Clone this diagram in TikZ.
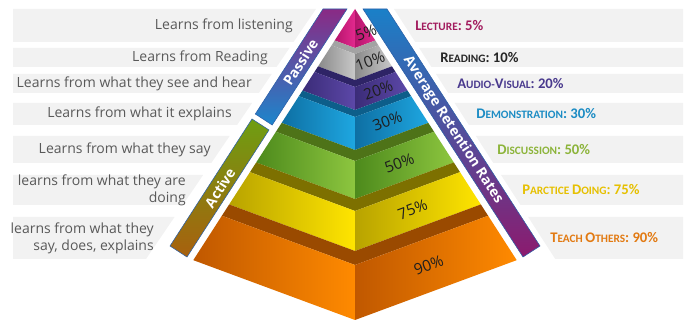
\documentclass[tikz,border=0pt]{standalone}
\usepackage{fontspec}
\setmainfont{Open Sans}
\newfontfamily\capfont{Carlito}
\usetikzlibrary{calc}

\definecolor{barbg}{HTML}{F2F2F2}
\definecolor{bartext}{HTML}{595959}
\definecolor{pcttext}{HTML}{1E1E1E}
% layer colours: dark, bright, ledge
\definecolor{dkpink}{HTML}{B5156C}   \definecolor{brpink}{HTML}{E3298E}
\definecolor{dkgrey}{HTML}{8A8A8A}   \definecolor{brgrey}{HTML}{C8C8C8}   \definecolor{lggrey}{HTML}{A3A3A3}
\definecolor{dkpurple}{HTML}{3B2C78} \definecolor{brpurple}{HTML}{5C48A8} \definecolor{lgpurple}{HTML}{2E2466}
\definecolor{dkblue}{HTML}{0E6FA3}   \definecolor{brblue}{HTML}{1EA7E1}   \definecolor{lgblue}{HTML}{0D5E8A}
\definecolor{dkgreen}{HTML}{4D8A1C}  \definecolor{brgreen}{HTML}{8DC63F}  \definecolor{lggreen}{HTML}{4E7318}
\definecolor{dkyellow}{HTML}{B8A300} \definecolor{bryellow}{HTML}{FFE500} \definecolor{lgyellow}{HTML}{7D7000}
\definecolor{dkorange}{HTML}{C05800} \definecolor{brorange}{HTML}{FF8A00} \definecolor{lgorange}{HTML}{9A4A00}
% bands
\definecolor{passtop}{HTML}{8A2A85}  \definecolor{passbot}{HTML}{1C86CC}
\definecolor{acttop}{HTML}{6E9E12}   \definecolor{actbot}{HTML}{A8600E}
\definecolor{avgtop}{HTML}{1A80C8}   \definecolor{avgmid}{HTML}{4A2E82}   \definecolor{avgbot}{HTML}{8C1A6E}
\definecolor{bandedge}{HTML}{2A5FA8}
% right labels
\definecolor{lecC}{HTML}{A21C5E}
\definecolor{readC}{HTML}{262626}
\definecolor{audioC}{HTML}{4A3A8E}
\definecolor{demoC}{HTML}{1C8CC4}
\definecolor{discC}{HTML}{8CB43A}
\definecolor{pracC}{HTML}{E6C000}
\definecolor{teachC}{HTML}{E27A12}

\newcommand{\bigc}[1]{{\fontsize{11}{12}\selectfont #1}}

\begin{document}
\begin{tikzpicture}[x=0.75pt, y=-0.75pt,
    bar/.style={fill=barbg},
    lefttext/.style={anchor=east, align=right, text=bartext, font=\fontsize{10.5}{12.5}\selectfont, inner sep=0pt},
    righttext/.style={anchor=west, inner sep=0pt, font=\capfont\bfseries\fontsize{8.5}{10}\selectfont},
    pct/.style={rotate=20.3, font=\fontsize{11.5}{12}\selectfont, text=pcttext, inner sep=0pt},
    bandtext/.style={text=white, font=\bfseries\fontsize{10.5}{12}\selectfont, inner sep=0pt},
    band/.style={draw=bandedge, line width=0.4pt}
  ]
\useasboundingbox (0,0) rectangle (690,323);

% grey bars on both sides
\foreach \ya/\yb in {9/42, 48/67, 74/93, 103/125, 136/163, 175/205, 217/259} {
  \fill[bar] (13,\ya) -- ({316-0.68*(\ya-9)},\ya) -- ({316-0.68*(\yb-9)},\yb) -- (13,\yb) -- cycle;
  \fill[bar] ({394+0.645*(\ya-9)},\ya) -- (683,\ya) -- (683,\yb) -- ({394+0.645*(\yb-9)},\yb) -- cycle;
}

\node[lefttext] (listen) at (293,25.5) {Learns from listening};
\node[lefttext] (reading) at (268,57.5) {Learns from Reading};
\node[lefttext] (seehear) at (252,83.5) {Learns from what they see and hear};
\node[lefttext] (explains) at (232,114) {Learns from what it explains};
\node[lefttext] (say) at (211,149.5) {Learns from what they say};
\node[lefttext] (doing) at (186,190) {learns from what they are\\doing};
\node[lefttext] (sayall) at (154,238) {learns from what they\\say, does, explains};

\node[righttext, text=lecC] (lecture) at (415,25.5) {\bigc{L}ECTURE\bigc{: 5\%}};
\node[righttext, text=readC] (readlab) at (440,57.5) {\bigc{R}EADING\bigc{: 10\%}};
\node[righttext, text=audioC] (audio) at (457,83.5) {\bigc{A}UDIO-\bigc{V}ISUAL\bigc{: 20\%}};
\node[righttext, text=demoC] (demo) at (476,114) {\bigc{D}EMONSTRATION\bigc{: 30\%}};
\node[righttext, text=discC] (disc) at (497,149.5) {\bigc{D}ISCUSSION\bigc{: 50\%}};
\node[righttext, text=pracC] (practice) at (522,190) {\bigc{P}ARCTICE \bigc{D}OING\bigc{: 75\%}};
\node[righttext, text=teachC] (teach) at (550,238) {\bigc{T}EACH \bigc{O}THERS\bigc{: 90\%}};

% side bands
\shade[band, top color=passtop, bottom color=passbot] (323,9) -- (347,9) -- (272.2,125) -- (255.3,114) -- cycle;
\shade[band, top color=acttop, bottom color=actbot] (252,119) -- (269,130) -- (187,257) -- (170,246) -- cycle;
\shade[band, top color=avgtop, middle color=avgmid, bottom color=avgbot] (363,9) -- (387,9) -- (540,246) -- (523,257) -- cycle;
\node[bandtext, rotate=57.2] (passive) at (300.5,62) {Passive};
\node[bandtext, rotate=57.2] (active) at (220,188) {Active};
\node[bandtext, rotate=-57.2] (avg) at (453,130) {Average Retention Rates};

% pyramid top
\shade[left color=dkpink, right color=brpink] (355,9) -- (355,48) -- (334.7,40.5) -- cycle;
\shade[left color=dkpink, right color=brpink] (355,9) -- (375.3,40.5) -- (355,48) -- cycle;
\node[pct] (pct5) at (366,33) {5\%};

% pyramid layers
\foreach \yt/\yb/\yu/\c/\p in {54/80/48/grey/10, 87/110/80/purple/20, 117/150/110/blue/30,
    161/199/150/green/50, 211/251/199/yellow/75, 265/320/251/orange/90} {
  \pgfmathsetmacro\wt{0.52*(\yt-9)}
  \pgfmathsetmacro\wb{0.52*(\yb-9)}
  \pgfmathsetmacro\wu{0.52*(\yu-9)}
  \fill[lg\c] ({355-\wt},{\yt-0.37*\wt}) -- (355,\yt) -- (355,\yu) -- ({355-\wu},{\yu-0.37*\wu}) -- cycle;
  \fill[lg\c] ({355+\wt},{\yt-0.37*\wt}) -- (355,\yt) -- (355,\yu) -- ({355+\wu},{\yu-0.37*\wu}) -- cycle;
  \shade[left color=dk\c, right color=br\c] ({355-\wt},{\yt-0.37*\wt}) -- (355,\yt) -- (355,\yb) -- ({355-\wb},{\yb-0.37*\wb}) -- cycle;
  \shade[left color=dk\c, right color=br\c] (355,\yt) -- ({355+\wt},{\yt-0.37*\wt}) -- ({355+\wb},{\yb-0.37*\wb}) -- (355,\yb) -- cycle;
  \node[pct] (pct\p) at ({355+(\wt+\wb)/4},{(\yt+\yb)/2-0.37*(\wt+\wb)/4}) {\p\%};
}
\end{tikzpicture}
\end{document}
